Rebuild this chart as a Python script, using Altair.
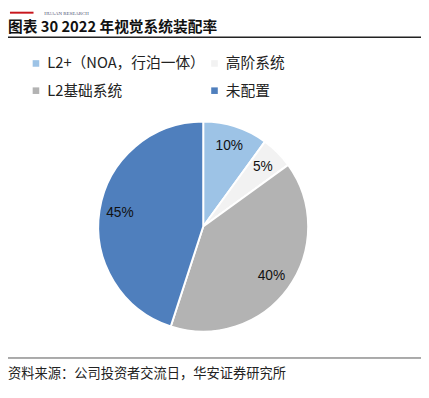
import altair as alt
import pandas as pd

categories = ["L2+（NOA，行泊一体）", "高阶系统", "L2基础系统", "未配置"]
values = [10, 5, 40, 45]
labels = ["10%", "5%", "40%", "45%"]
colors = ["#9DC3E6", "#F2F2F2", "#B3B3B3", "#4F7FBD"]
# legend reading order (filled column by column)
legend_order = ["L2+（NOA，行泊一体）", "L2基础系统", "高阶系统", "未配置"]

title_text = "图表 30 2022 年视觉系统装配率"
source_text = "资料来源：公司投资者交流日，华安证券研究所"
brand_text = "HUAAN RESEARCH"

df = pd.DataFrame({"cat": categories, "val": values, "lab": labels, "idx": list(range(len(values)))})

CX, CY, R = 207, 227, 107
FONT = "Noto Sans CJK SC"

color_map = dict(zip(categories, colors))
color_scale = alt.Scale(domain=legend_order, range=[color_map[c] for c in legend_order])

base = alt.Chart(df).encode(
    theta=alt.Theta("val:Q", stack=True),
    order=alt.Order("idx:Q"),
)

pie = base.mark_arc(outerRadius=R, stroke="white", strokeWidth=2).encode(
    x=alt.value(CX),
    y=alt.value(CY),
    color=alt.Color(
        "cat:N",
        scale=color_scale,
        legend=alt.Legend(
            title=None,
            orient="none",
            legendX=29,
            legendY=53,
            columns=2,
            symbolType="square",
            symbolSize=45,
            symbolStrokeWidth=0,
            labelFont=FONT,
            labelFontSize=15,
            labelColor="#222222",
            labelOffset=4,
            columnPadding=2,
            rowPadding=12,
            labelLimit=300,
        ),
    ),
)

text = base.mark_text(radius=86, font="Liberation Sans", fontSize=14, color="#111111").encode(
    x=alt.value(CX),
    y=alt.value(CY),
    text="lab:N",
)

title = alt.Chart(pd.DataFrame({"t": [title_text]})).mark_text(
    align="left", baseline="middle", font=FONT, fontSize=15, fontWeight="bold", color="#111111"
).encode(x=alt.value(8), y=alt.value(23.5), text="t:N")

brand = alt.Chart(pd.DataFrame({"t": [brand_text]})).mark_text(
    align="left", baseline="alphabetic", font="Liberation Serif", fontSize=5, color="#4a4f70"
).encode(x=alt.value(45), y=alt.value(11), text="t:N")

logo = alt.Chart(pd.DataFrame({"a": [0]})).mark_rect(color="#C8161D").encode(
    x=alt.value(10), x2=alt.value(34), y=alt.value(8), y2=alt.value(10)
)

top_rule = alt.Chart(pd.DataFrame({"a": [0]})).mark_rule(color="#222222", strokeWidth=1.5).encode(
    x=alt.value(0), x2=alt.value(429), y=alt.value(34)
)

bottom_rule = alt.Chart(pd.DataFrame({"a": [0]})).mark_rule(color="#555555", strokeWidth=1).encode(
    x=alt.value(0), x2=alt.value(429), y=alt.value(361)
)

source = alt.Chart(pd.DataFrame({"t": [source_text]})).mark_text(
    align="left", baseline="middle", font=FONT, fontSize=13.5, color="#222222"
).encode(x=alt.value(8), y=alt.value(377), text="t:N")

chart = alt.layer(pie, text, title, brand, logo, top_rule, bottom_rule, source).properties(
    width=429,
    height=398,
    padding={"left": -8, "top": -8, "right": 0, "bottom": 0},
    autosize=alt.AutoSizeParams(type="none"),
).configure_view(stroke=None)

chart.save("out.html", embed_options={"renderer": "svg", "actions": False})
